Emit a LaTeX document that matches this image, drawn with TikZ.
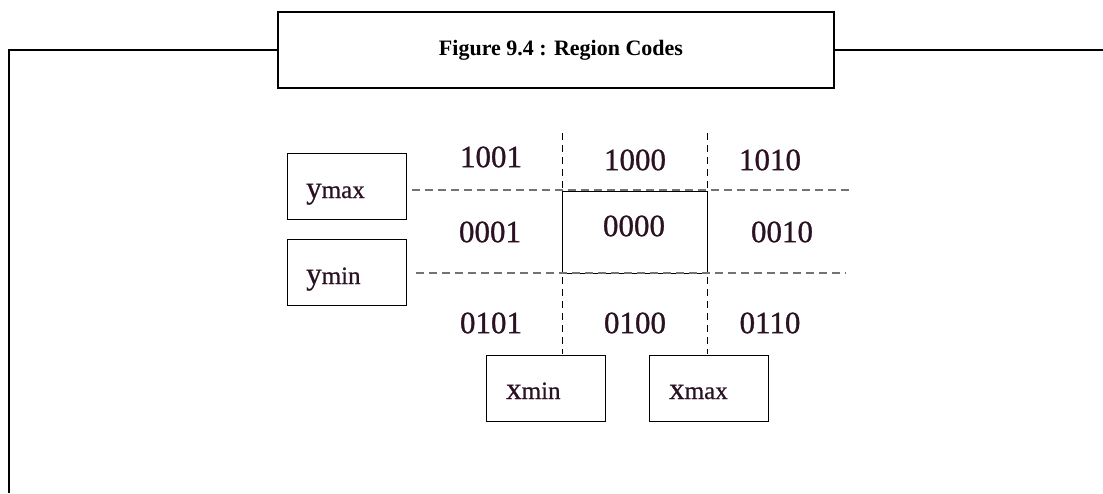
\documentclass[tikz,border=0pt]{standalone}
\usepackage{fontspec}
\setmainfont{Liberation Serif}
\newfontfamily\codefont[FakeBold=1.0]{Liberation Serif}
\newfontfamily\labfont[FakeBold=0.6]{Liberation Serif}
\definecolor{codecol}{HTML}{2A1222}
\begin{document}
\begin{tikzpicture}[x=1pt,y=-1pt,
  titlebox/.style={draw,line width=2pt,minimum width=556pt,minimum height=76pt,inner sep=0pt},
  titlefont/.style={font=\fontsize{22}{24}\selectfont\bfseries,inner sep=0pt},
  framel/.style={line width=2pt},
  limbox/.style={draw,line width=1pt,minimum width=119pt,minimum height=66pt,inner sep=0pt},
  codelab/.style={font=\codefont\fontsize{31}{33}\selectfont,text=codecol,inner sep=0pt},
  hdash/.style={draw=black!55,line width=1.6pt,dash pattern=on 8pt off 5pt},
  vdash/.style={draw=black,line width=1pt,dash pattern=on 7pt off 5pt},
  limlab/.style={anchor=base west,inner sep=0pt,text=codecol,font=\labfont}]
\useasboundingbox (0,0) rectangle (1103,493);
% title and frame
\node[titlebox] (title) at (556,50) {};
\node[titlefont] (titletext) at (561,50) {Figure 9.4 : Region Codes};
\coordinate (fbl) at (9,493);
\coordinate (ftl) at (9,50);
\coordinate (ftr) at (1103,50);
\draw[framel] (fbl) -- (ftl) -- (title.west);
\draw[framel] (title.east) -- (ftr);
% limit boxes
\node[limbox] (ymaxb) at (346.5,186) {};
\node[limbox] (yminb) at (346.5,272) {};
\node[limbox] (xminb) at (546,388) {};
\node[limbox] (xmaxb) at (708.5,388) {};
\newcommand{\limtext}[2]{{\fontsize{31}{33}\selectfont #1}{\fontsize{25}{27}\selectfont #2}}
\node[limlab] (ymaxl) at (306,198) {\limtext{y}{max}};
\node[limlab] (yminl) at (306,284) {\limtext{y}{min}};
\node[limlab] (xminl) at (506,399) {\limtext{x}{min}};
\node[limlab] (xmaxl) at (669,399) {\limtext{x}{max}};
% window
\node[draw,line width=1pt,minimum width=145pt,minimum height=82pt,inner sep=0pt] (win) at (634.5,232) {};
% dashed lines
\coordinate (h1a) at (412,190); \coordinate (h1b) at (850,190);
\coordinate (h2a) at (416,273); \coordinate (h2b) at (846,273);
\coordinate (v1a) at (562,133); \coordinate (v1b) at (562,354);
\coordinate (v2a) at (707,133); \coordinate (v2b) at (707,354);
\draw[hdash] (h1a) -- (h1b);
\draw[hdash] (h2a) -- (h2b);
\draw[vdash] (v1a) -- (v1b);
\draw[vdash] (v2a) -- (v2b);
% region codes
\node[codelab] (c1001) at (491,157) {1001};
\node[codelab] (c1000) at (635,160) {1000};
\node[codelab] (c1010) at (770,160) {1010};
\node[codelab] (c0001) at (490,232) {0001};
\node[codelab] (c0000) at (634,226) {0000};
\node[codelab] (c0010) at (782,232) {0010};
\node[codelab] (c0101) at (491,323) {0101};
\node[codelab] (c0100) at (635,323) {0100};
\node[codelab] (c0110) at (770,323) {0110};
\end{tikzpicture}
\end{document}
